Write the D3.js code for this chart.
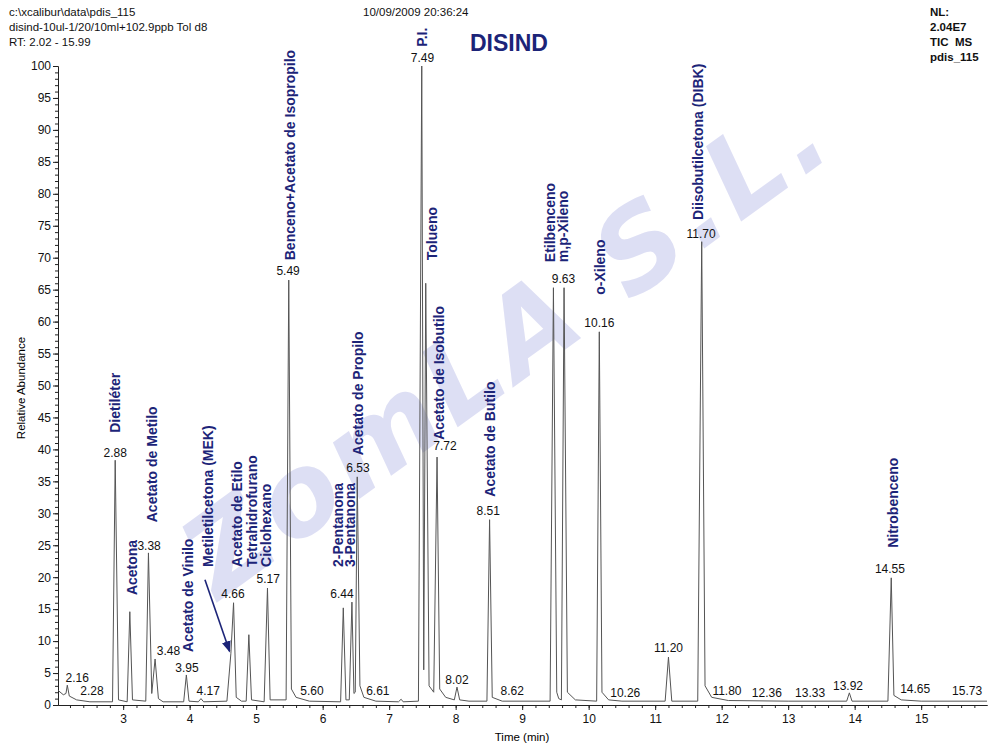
<!DOCTYPE html>
<html>
<head>
<meta charset="utf-8">
<script src="https://cdn.jsdelivr.net/npm/d3@7"></script>
<style>
body{margin:0;background:#fff;}
text{font-family:"Liberation Sans",Arial,sans-serif;}
.axis text{font-size:12px;fill:#111;}
.axis path,.axis line{stroke:#222;stroke-width:1;}
.hdr{font-size:11.5px;fill:#111;}
.rt{font-size:12px;fill:#111;text-anchor:middle;}
.cmp{font-size:14px;font-weight:bold;fill:#1c2478;}
.trace{fill:none;stroke:#555;stroke-width:1;}
</style>
</head>
<body>
<div id="chrom"></div>
<script>
var w=1000;
var h=748;

var rtMin=2.02;
var rtMax=15.99;

// trace points [time, relative abundance]
var tracePts=[
 [2.02,2.3],[2.10,1.6],[2.14,1.8],[2.16,3.1],[2.19,1.4],[2.30,0.8],[2.50,0.5],
 [2.84,0.5],[2.88,38.3],[2.93,0.8],[3.06,0.5],[3.10,14.6],[3.14,0.8],
 [3.34,0.6],[3.38,23.8],[3.43,1.8],[3.48,7.2],[3.53,1.0],[3.60,0.5],
 [3.91,0.5],[3.95,4.7],[3.99,0.6],[4.13,0.5],[4.17,1.0],[4.21,0.5],
 [4.56,0.6],[4.62,8.1],[4.66,16.0],[4.70,1.2],[4.78,0.6],[4.85,0.6],[4.89,11.0],[4.93,0.8],
 [5.12,0.5],[5.17,18.3],[5.21,0.8],[5.45,0.8],[5.49,66.5],[5.53,2.5],[5.60,1.2],[5.80,0.6],
 [6.27,0.5],[6.31,15.2],[6.35,0.8],[6.40,0.8],[6.44,16.1],[6.47,1.8],[6.49,2.0],[6.52,35.7],[6.56,3.0],[6.62,1.2],[6.80,0.6],
 [7.14,0.5],[7.18,0.9],[7.21,0.5],[7.44,0.6],[7.49,100],[7.52,5.5],[7.55,66],[7.60,3.0],
 [7.67,2.0],[7.72,38.8],[7.76,2.5],[7.85,1.2],[7.98,0.8],[8.02,2.8],[8.06,0.8],[8.20,0.6],
 [8.47,0.6],[8.51,29.0],[8.55,1.2],[8.70,0.6],[9.42,0.6],[9.47,65.3],[9.52,2.0],[9.55,1.0],
 [9.59,0.8],[9.63,65.3],[9.68,2.0],[9.80,0.8],[10.12,0.6],[10.16,58.4],[10.20,2.0],[10.30,0.8],
 [10.50,0.6],[11.15,0.6],[11.20,7.5],[11.25,0.6],[11.64,0.6],[11.70,72.5],[11.75,3.0],[11.85,1.2],
 [12.10,0.7],[13.00,0.6],[13.88,0.6],[13.92,1.9],[13.96,0.6],[14.50,0.6],[14.55,19.9],[14.59,1.5],
 [14.70,0.8],[15.00,0.6],[15.99,0.6]
];

// retention time labels [text, time, abundance of label baseline]
var rtLabels=[
 ["2.16",2.31,3.6],["2.28",2.53,1.6],["2.88",2.88,38.8],["3.38",3.39,24.3],["3.48",3.68,7.8],
 ["3.95",3.96,5.2],["4.17",4.28,1.6],["4.66",4.65,16.7],["5.17",5.18,19.1],["5.49",5.48,67.3],
 ["5.60",5.84,1.6],["6.44",6.29,16.7],["6.53",6.53,36.5],["6.61",6.83,1.6],["7.49",7.50,100.6],
 ["7.72",7.84,39.9],["8.02",8.02,3.3],["8.51",8.49,29.7],["8.62",8.85,1.6],["9.63",9.62,66.0],
 ["10.16",10.16,59.2],["10.26",10.55,1.3],["11.20",11.20,8.3],["11.70",11.69,73.1],["11.80",12.08,1.6],
 ["12.36",12.68,1.3],["13.33",13.33,1.3],["13.92",13.90,2.4],["14.55",14.53,20.7],["14.65",14.91,1.9],
 ["15.73",15.69,1.6]
];

// compound names [name, time, abundance where text starts]
var compounds=[
 ["Dietiléter",2.88,42.6],["Acetona",3.135,17.2],["Acetato de Metilo",3.44,28.6],
 ["Acetato de Vinilo",3.98,8.3],["Metiletilcetona (MEK)",4.28,21.6],["Acetato de Etilo",4.71,21.6],
 ["Tetrahidrofurano",4.94,21.6],["Ciclohexano",5.15,21.6],["Benceno+Acetato de Isopropilo",5.51,69.6],
 ["2-Pentanona",6.23,21.6],["3-Pentanona",6.41,21.6],["Acetato de Propilo",6.53,39.1],
 ["P.I.",7.50,103],["Tolueno",7.65,69.6],["Acetato de Isobutilo",7.75,41.5],["Acetato de Butilo",8.52,32.6],
 ["Etilbenceno",9.42,69.3],["m,p-Xileno",9.62,69.3],["o-Xileno",10.17,64.2],
 ["Diisobutilcetona (DIBK)",11.65,75.9],["Nitrobenceno",14.58,24.6]
];

var mekArrow=[[4.23,19.6],[4.60,8.4]];

var yMajor=d3.range(0,101,5);
var yMinor=d3.range(0,101,1);
var xMajor=d3.range(3,16,1);
var xMinor=d3.range(2.2,15.9,0.2);

var headerLeft=["c:\\xcalibur\\data\\pdis_115","disind-10ul-1/20/10ml+102.9ppb Tol d8","RT: 2.02 - 15.99"];
var headerRight=["NL:","2.04E7","TIC  MS","pdis_115"];

var xScale,yScale,svgChart;
function setScales(){
xScale=d3.scaleLinear()
 .domain([rtMin,rtMax])
 .range([58,987]);
yScale=d3.scaleLinear()
 .domain([0,100])
 .range([705,66]);
}

function drawWatermark(){
svgChart.append("text")
 .attr("transform","translate(530,375) rotate(-36)")
 .attr("text-anchor","middle")
 .style("font-family","'DejaVu Sans',sans-serif")
 .style("font-style","italic")
 .style("font-weight","bold")
 .style("font-size","112px")
 .style("letter-spacing","6px")
 .style("fill","#c8caee")
 .style("opacity",0.6)
 .text("ZomLA S.L.");
}

function drawAxes(){
// y minor then major
svgChart.append("g").attr("class","axis")
 .attr("transform","translate(58,0)")
 .call(d3.axisLeft(yScale).tickValues(yMinor).tickSize(3).tickSizeOuter(0).tickFormat(""));
svgChart.append("g").attr("class","axis")
 .attr("transform","translate(58,0)")
 .call(d3.axisLeft(yScale).tickValues(yMajor).tickSize(5).tickSizeOuter(0).tickPadding(2));

svgChart.append("g").attr("class","axis")
 .attr("transform","translate(0,705)")
 .call(d3.axisBottom(xScale).tickValues(xMinor).tickSize(3).tickSizeOuter(0).tickFormat(""));
svgChart.append("g").attr("class","axis")
 .attr("transform","translate(0,705)")
 .call(d3.axisBottom(xScale).tickValues(xMajor).tickSize(5).tickSizeOuter(0).tickPadding(4));

svgChart.append("text")
 .attr("transform","translate(25,388) rotate(-90)")
 .attr("text-anchor","middle")
 .style("font-size","11.5px")
 .text("Relative Abundance");
svgChart.append("text")
 .attr("x",522).attr("y",741)
 .attr("text-anchor","middle")
 .style("font-size","11.5px")
 .text("Time (min)");
}

function drawHeader(){
headerLeft.forEach(function(t,i){
 svgChart.append("text").attr("class","hdr").attr("x",9).attr("y",16+i*15).text(t);
});
svgChart.append("text").attr("class","hdr").attr("x",363).attr("y",16).text("10/09/2009 20:36:24");
headerRight.forEach(function(t,i){
 svgChart.append("text").attr("class","hdr").attr("x",930).attr("y",16+i*15)
  .style("font-weight","bold").style("white-space","pre").text(t);
});
svgChart.append("text")
 .attr("x",470).attr("y",51)
 .style("font-size","23px").style("font-weight","bold").style("fill","#1c2478")
 .text("DISIND");
}

function drawTrace(){
var line=d3.line()
 .x(function(d){return xScale(d[0]);})
 .y(function(d){return yScale(d[1]);});
svgChart.append("path")
 .datum(tracePts)
 .attr("class","trace")
 .attr("d",line);
}

function drawLabels(){
svgChart.selectAll(".rt").data(rtLabels).enter()
 .append("text").attr("class","rt")
 .attr("x",function(d){return xScale(d[1]);})
 .attr("y",function(d){return yScale(d[2]);})
 .text(function(d){return d[0];});

svgChart.selectAll(".cmp").data(compounds).enter()
 .append("text").attr("class","cmp")
 .attr("transform",function(d){return "translate("+xScale(d[1])+","+yScale(d[2])+") rotate(-90)";})
 .attr("dy","0.36em")
 .text(function(d){return d[0];});

svgChart.append("defs").append("marker")
 .attr("id","arr").attr("viewBox","0 0 10 10")
 .attr("refX",9).attr("refY",5)
 .attr("markerWidth",7).attr("markerHeight",7)
 .attr("orient","auto")
 .append("path").attr("d","M0,1 L10,5 L0,9 z").attr("fill","#1c2478");
svgChart.append("line")
 .attr("x1",xScale(mekArrow[0][0])).attr("y1",yScale(mekArrow[0][1]))
 .attr("x2",xScale(mekArrow[1][0])).attr("y2",yScale(mekArrow[1][1]))
 .attr("stroke","#1c2478").attr("stroke-width",1.6)
 .attr("marker-end","url(#arr)");
}

setScales();
svgChart=d3.select("#chrom").append("svg")
 .attr("width",w).attr("height",h);
drawWatermark();
drawAxes();
drawTrace();
drawHeader();
drawLabels();
</script>
</body>
</html>
